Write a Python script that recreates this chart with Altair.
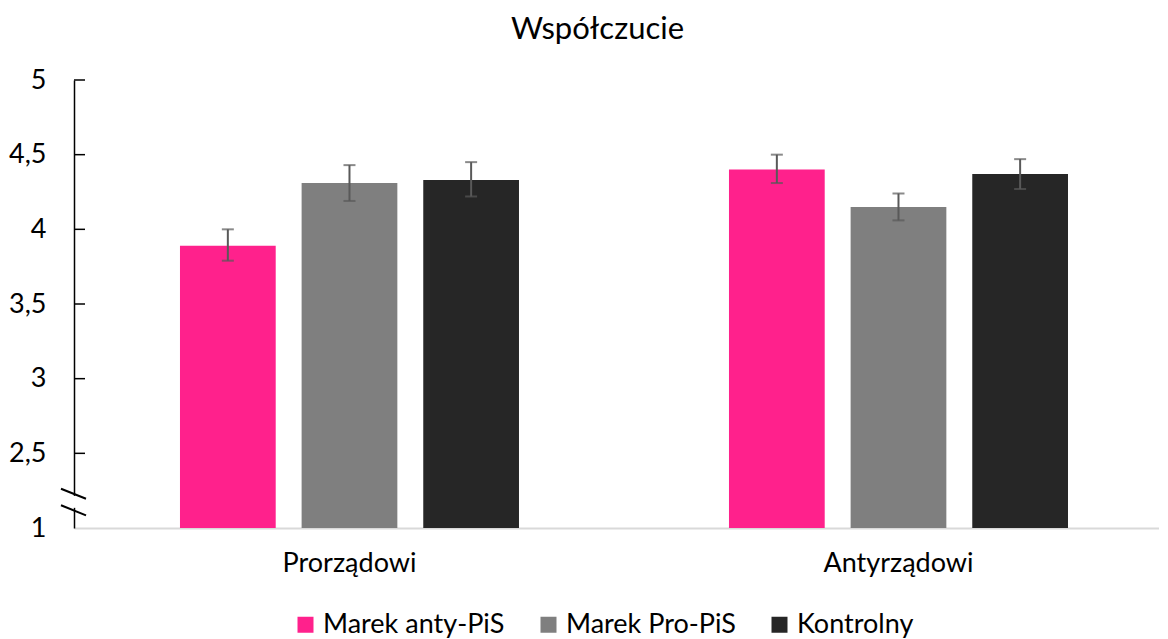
import altair as alt
import pandas as pd

groups = ["Prorządowi", "Antyrządowi"]
series = ["Marek anty-PiS", "Marek Pro-PiS", "Kontrolny"]
colors = ["#FF218C", "#7F7F7F", "#262626"]
means = {"Prorządowi": [3.89, 4.31, 4.33], "Antyrządowi": [4.40, 4.15, 4.37]}
lower = {"Prorządowi": [3.79, 4.19, 4.22], "Antyrządowi": [4.31, 4.06, 4.27]}
upper = {"Prorządowi": [4.00, 4.43, 4.45], "Antyrządowi": [4.50, 4.24, 4.47]}
tick_values = [2, 2.5, 3, 3.5, 4, 4.5, 5]
inner_ticks = [2.5, 3, 3.5, 4, 4.5, 5]

rows = []
for g in groups:
    for i, s in enumerate(series):
        rows.append({"grupa": g, "seria": s, "m": means[g][i],
                     "lo": lower[g][i], "hi": upper[g][i], "base": 2})
df = pd.DataFrame(rows)

FONT = "Lato"

x_enc = alt.X("grupa:N", sort=groups,
              scale=alt.Scale(paddingInner=0.3825, paddingOuter=0.1794, align=0.538),
              axis=alt.Axis(title=None, labelAngle=0, labelFontSize=27, labelFont=FONT,
                            labelColor="#000000", ticks=False, domainColor="#D9D9D9",
                            domainWidth=2, labelPadding=22, grid=False))
xo_enc = alt.XOffset("seria:N", sort=series,
                     scale=alt.Scale(paddingInner=0.213, paddingOuter=0))
y_scale = alt.Scale(domain=[2, 5], nice=False, zero=False)

bars = alt.Chart(df).mark_bar().encode(
    x=x_enc,
    xOffset=xo_enc,
    y=alt.Y("m:Q", scale=y_scale,
            axis=alt.Axis(title=None, values=tick_values, ticks=False, grid=False,
                          domainColor="#000000", domainWidth=1.5,
                          labelFontSize=27, labelFont=FONT, labelColor="#000000",
                          labelPadding=28,
                          labelExpr="datum.value == 2 ? '1' : replace(format(datum.value, '.1~f'), '.', ',')")),
    y2=alt.Y2("base:Q"),
    color=alt.Color("seria:N", sort=series,
                    scale=alt.Scale(domain=series, range=colors),
                    legend=alt.Legend(title=None, orient="none", direction="horizontal",
                                      legendX=218, legendY=531, padding=0,
                                      symbolType="square", symbolSize=256,
                                      symbolStrokeWidth=0, labelFontSize=27,
                                      labelFont=FONT, labelColor="#000000",
                                      labelLimit=0, columnPadding=30, labelOffset=4)),
)

err = alt.Chart(df).mark_rule(color="#595959", strokeWidth=2).encode(
    x=alt.X("grupa:N", sort=groups),
    xOffset=alt.XOffset("seria:N", sort=series),
    y=alt.Y("lo:Q", scale=y_scale),
    y2="hi:Q",
)
cap_lo = alt.Chart(df).mark_tick(color="#595959", thickness=2, size=12).encode(
    x=alt.X("grupa:N", sort=groups),
    xOffset=alt.XOffset("seria:N", sort=series),
    y=alt.Y("lo:Q", scale=y_scale),
)
cap_hi = alt.Chart(df).mark_tick(color="#595959", thickness=2, size=12).encode(
    x=alt.X("grupa:N", sort=groups),
    xOffset=alt.XOffset("seria:N", sort=series),
    y=alt.Y("hi:Q", scale=y_scale),
)

tdf = pd.DataFrame({"t": inner_ticks})
ticks = alt.Chart(tdf).mark_rule(color="#000000", strokeWidth=1.5).encode(
    y=alt.Y("t:Q", scale=y_scale),
    x=alt.value(0), x2=alt.value(11),
)

gap = alt.Chart(pd.DataFrame({"a": [2.215], "b": [2.135]})).mark_rule(
    color="#FFFFFF", strokeWidth=4).encode(
    x=alt.value(0), y=alt.Y("a:Q", scale=y_scale), y2="b:Q")

brk = pd.DataFrame({"y1": [2.263, 2.152], "y2": [2.196, 2.085]})
slashes = alt.Chart(brk).mark_rule(color="#000000", strokeWidth=2).encode(
    x=alt.value(-13), x2=alt.value(12),
    y=alt.Y("y1:Q", scale=y_scale), y2="y2:Q",
)

chart = alt.layer(bars, err, cap_lo, cap_hi, ticks, gap, slashes).properties(
    width=1085, height=448,
    background="#FFFFFF",
    title=alt.Title("Współczucie", fontSize=31, font=FONT, fontWeight="normal",
                    color="#000000", offset=20, dx=-19),
    padding={"left": 0, "top": 6, "right": 0, "bottom": 0},
).configure_view(stroke=None).configure_axis(grid=False)

chart.save("out.html", embed_options={"renderer": "svg", "actions": False})
